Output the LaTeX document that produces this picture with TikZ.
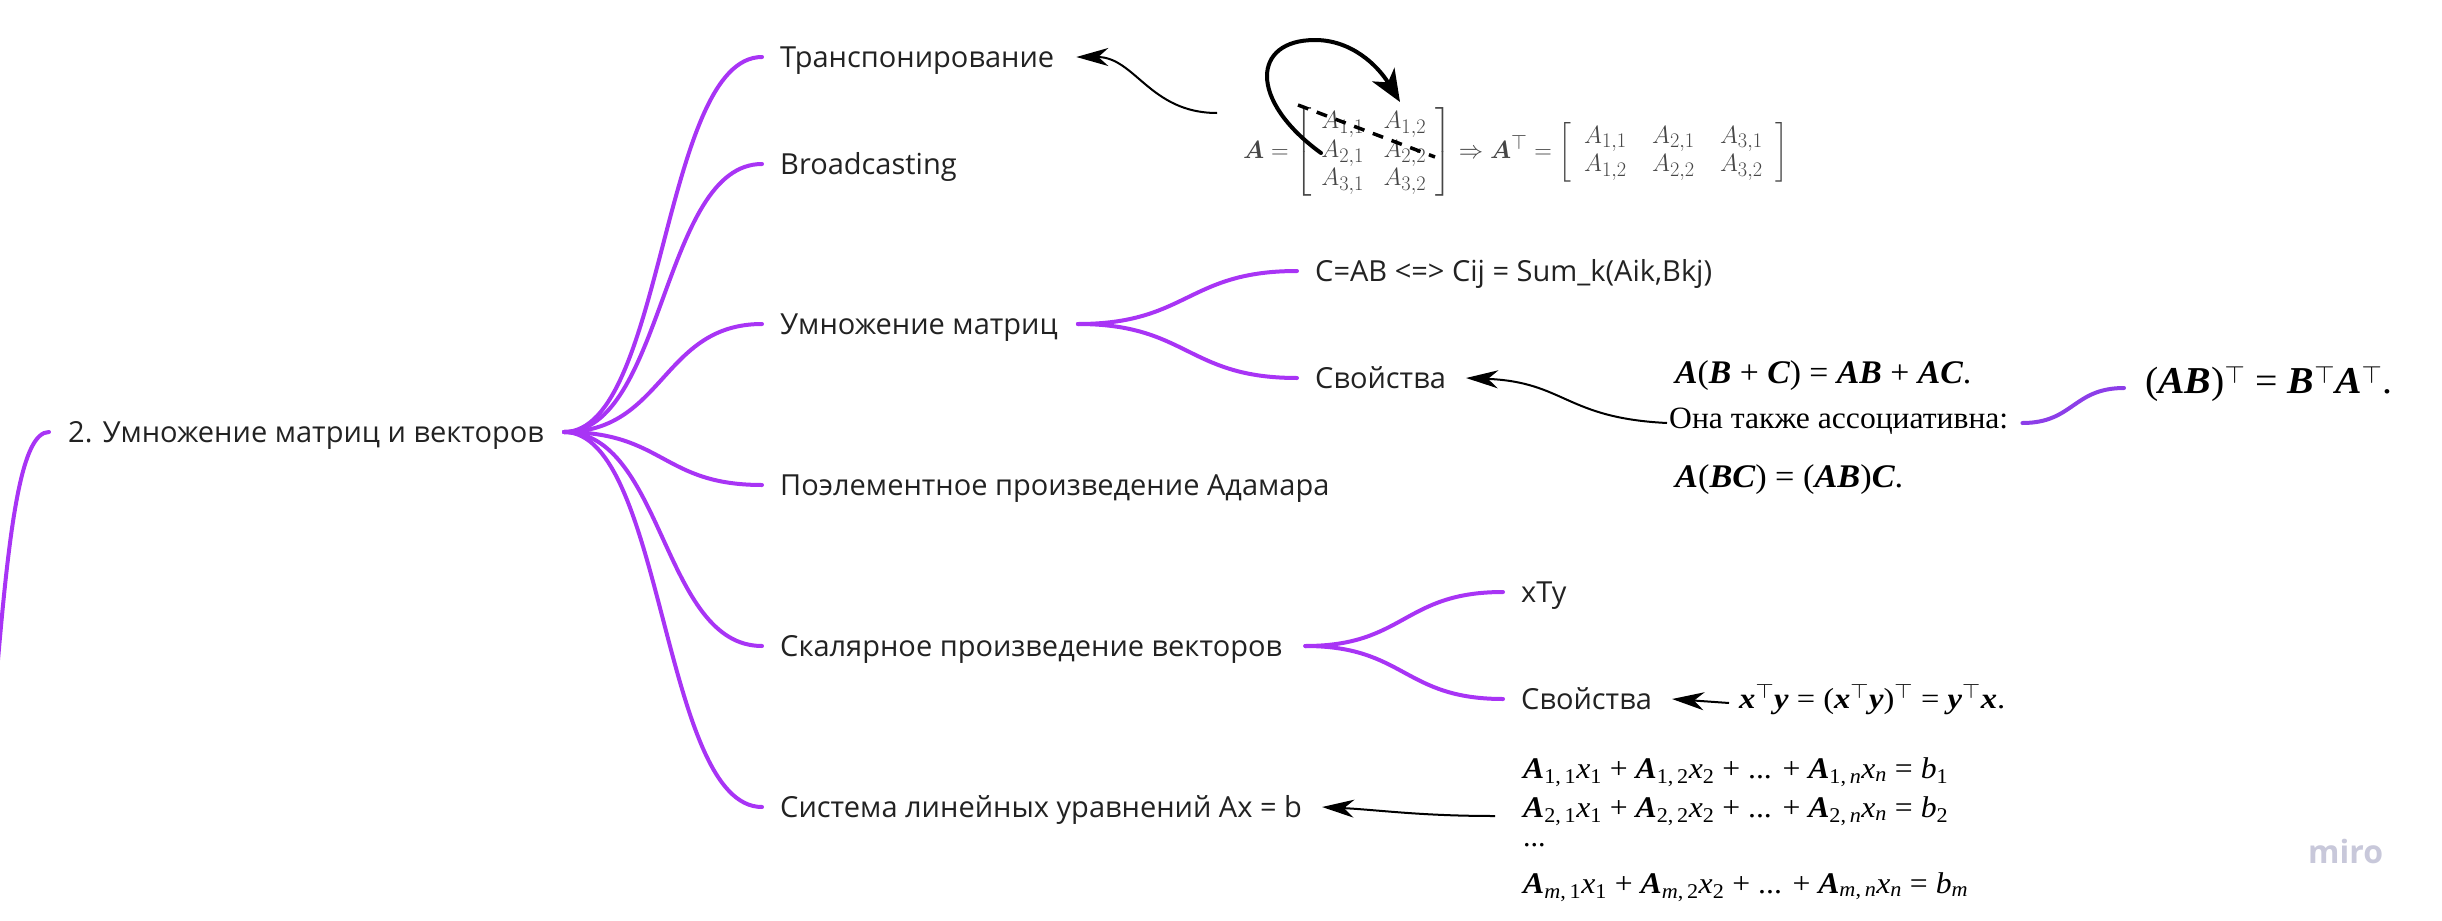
\documentclass[tikz,border=0pt]{standalone}
\usepackage{fontspec}
\usepackage{amsmath}
\usepackage{graphicx}
\setmainfont{Open Sans}
\newfontfamily\tms{Liberation Serif}
\usetikzlibrary{arrows.meta}
\definecolor{branch}{RGB}{168,52,245}
\definecolor{branchb}{RGB}{140,62,232}
\definecolor{matgray}{RGB}{70,70,70}
\definecolor{txt}{RGB}{34,34,34}
\definecolor{wm}{RGB}{200,200,218}
\newcommand{\bi}[1]{{\bfseries\itshape #1}}
\newcommand{\tp}{$^{\top}$}
\begin{document}
\begin{tikzpicture}[x=1pt,y=-1pt,
  lbl/.style={anchor=base west, inner sep=0pt, text=txt, text height=20pt, text depth=0pt,
              font=\fontsize{29}{34}\selectfont},
  frm/.style={anchor=base west, inner sep=0pt, text=black, text height=10pt, text depth=0pt},
  br/.style={draw=branch, line width=4pt, line cap=round},
  brb/.style={draw=branchb, line width=4pt, line cap=round},
  arr/.style={draw=black, line width=2pt, -{Stealth[length=32pt,width=18pt,inset=10pt]}},
  looparr/.style={draw=black, line width=4pt, line cap=round, -{Stealth[length=32pt,width=26pt,inset=9pt]}},
  dsh/.style={draw=black, line width=3.5pt, dash pattern=on 11pt off 9pt}
]
\useasboundingbox (0,0) rectangle (2442,921);
\clip (0,0) rectangle (2442,921);

% main nodes
\node[lbl] (root) at (68,442) {2. Умножение матриц и векторов};
\node[lbl] (t1) at (780,67) {Транспонирование};
\node[lbl] (t2) at (780,174) {Broadcasting};
\node[lbl] (t3) at (780,334) {Умножение матриц};
\node[lbl] (t4) at (780,495) {Поэлементное произведение Адамара};
\node[lbl] (t5) at (780,656) {Скалярное произведение векторов};
\node[lbl] (t6) at (780,817) {Система линейных уравнений Ax = b};
\node[lbl] (c1) at (1315,281) {C=AB <=> Cij = Sum\_k(Aik,Bkj)};
\node[lbl] (c2) at (1315,388) {Свойства};
\node[lbl] (s1) at (1521,602) {xTy};
\node[lbl] (s2) at (1521,709) {Свойства};

% parent (off picture)
\coordinate (parent) at (-2,660);
\draw[br] ([xshift=-19pt]root.west) .. controls (22,432) and (10,520) .. (parent);

% branches from root
\coordinate (hub) at ([xshift=20pt]root.east);
\foreach \t in {t1,t2,t3,t4,t5,t6}{
  \draw[br] (hub) .. controls +(100,0) and ([xshift=-118pt]\t.west) .. ([xshift=-18pt]\t.west);
}
\draw[br] ([xshift=20pt]t3.east) .. controls +(110,0) and ([xshift=-128pt]c1.west) .. ([xshift=-18pt]c1.west);
\draw[br] ([xshift=20pt]t3.east) .. controls +(110,0) and ([xshift=-128pt]c2.west) .. ([xshift=-18pt]c2.west);
\draw[br] ([xshift=23pt]t5.east) .. controls +(100,0) and ([xshift=-118pt]s1.west) .. ([xshift=-18pt]s1.west);
\draw[br] ([xshift=23pt]t5.east) .. controls +(100,0) and ([xshift=-118pt]s2.west) .. ([xshift=-18pt]s2.west);

% transpose picture
\node[anchor=west, inner sep=0pt, text=matgray, font=\fontsize{28}{28}\selectfont] (mat) at (1243,152)
  {\resizebox{545pt}{\height}{$\boldsymbol{A} = \left[\arraycolsep=10pt\begin{array}{cc} A_{1,1} & A_{1,2}\\ A_{2,1} & A_{2,2}\\ A_{3,1} & A_{3,2}\end{array}\right] \Rightarrow \boldsymbol{A}^{\top} = \left[\arraycolsep=13pt\begin{array}{ccc} A_{1,1} & A_{2,1} & A_{3,1}\\ A_{1,2} & A_{2,2} & A_{3,2}\end{array}\right]$}};
\coordinate (matTail) at (1217,113);
\coordinate (lpS) at (1321,153);
\coordinate (lpE) at (1400,102);
\coordinate (dsA) at (1298,105);
\coordinate (dsB) at (1435,157);
\draw[dsh] (dsA) -- (dsB);
\draw[looparr] (lpS) .. controls (1248,100) and (1252,40) .. (1315,40) .. controls (1352,40) and (1378,66) .. (lpE);
\draw[arr] (matTail) .. controls (1150,113) and (1135,57) .. ([xshift=22pt]t1.east);

% matrix product properties
\node[frm] (f1) at (1675,383) {\resizebox{296pt}{\height}{\tms\fontsize{33}{38}\selectfont \bi{A}(\bi{B} + \bi{C}) = \bi{AB} + \bi{AC}.}};
\node[frm] (f2) at (1669,428) {\resizebox{339pt}{\height}{\tms\fontsize{31}{36}\selectfont Она также ассоциативна:}};
\node[frm] (f3) at (1675,487) {\resizebox{228pt}{\height}{\tms\fontsize{33}{38}\selectfont \bi{A}(\bi{BC}) = (\bi{AB})\bi{C}.}};
\node[frm] (f4) at (2145,393) {\resizebox{247pt}{\height}{\tms\fontsize{38}{44}\selectfont (\bi{AB})\tp{} = \bi{B}\tp\bi{A}\tp.}};
\draw[arr] ([xshift=-2pt]f2.west) .. controls (1565,418) and (1565,382) .. ([xshift=20pt]c2.east);
\draw[brb] ([xshift=14pt]f2.east) .. controls +(51,0) and ([xshift=-72pt]f4.west) .. ([xshift=-21pt]f4.west);

% scalar product properties
\node[frm] (f5) at (1739,708) {\resizebox{266pt}{\height}{\tms\fontsize{29}{34}\selectfont \bi{x}\tp\bi{y} = (\bi{x}\tp\bi{y})\tp{} = \bi{y}\tp\bi{x}.}};
\draw[arr] ([xshift=-10pt]f5.west) -- ([xshift=20pt]s2.east);

% linear system
\node[frm] (r1) at (1523,778) {\resizebox{425pt}{\height}{\tms\fontsize{30}{34}\selectfont \bi{A}\textsubscript{1,\,1}\textit{x}\textsubscript{1} + \bi{A}\textsubscript{1,\,2}\textit{x}\textsubscript{2} + ... + \bi{A}\textsubscript{1,\,\textit{n}}\textit{x}\textsubscript{\textit{n}} = \textit{b}\textsubscript{1}}};
\node[frm] (r2) at (1523,817) {\resizebox{425pt}{\height}{\tms\fontsize{30}{34}\selectfont \bi{A}\textsubscript{2,\,1}\textit{x}\textsubscript{1} + \bi{A}\textsubscript{2,\,2}\textit{x}\textsubscript{2} + ... + \bi{A}\textsubscript{2,\,\textit{n}}\textit{x}\textsubscript{\textit{n}} = \textit{b}\textsubscript{2}}};
\node[frm] (r3) at (1523,846) {\tms\fontsize{30}{34}\selectfont ...};
\node[frm] (r4) at (1523,893) {\resizebox{445pt}{\height}{\tms\fontsize{30}{34}\selectfont \bi{A}\textsubscript{\textit{m},\,1}\textit{x}\textsubscript{1} + \bi{A}\textsubscript{\textit{m},\,2}\textit{x}\textsubscript{2} + ... + \bi{A}\textsubscript{\textit{m},\,\textit{n}}\textit{x}\textsubscript{\textit{n}} = \textit{b}\textsubscript{\textit{m}}}};
\draw[arr] ([xshift=-28pt,yshift=-4pt]r2.west) .. controls (1420,816) and (1380,810) .. ([xshift=20pt]t6.east);

% watermark
\node[anchor=base west, inner sep=0pt, text=wm, font=\fontsize{32}{38}\selectfont\bfseries] (miro) at (2308,863) {miro};
\end{tikzpicture}
\end{document}
